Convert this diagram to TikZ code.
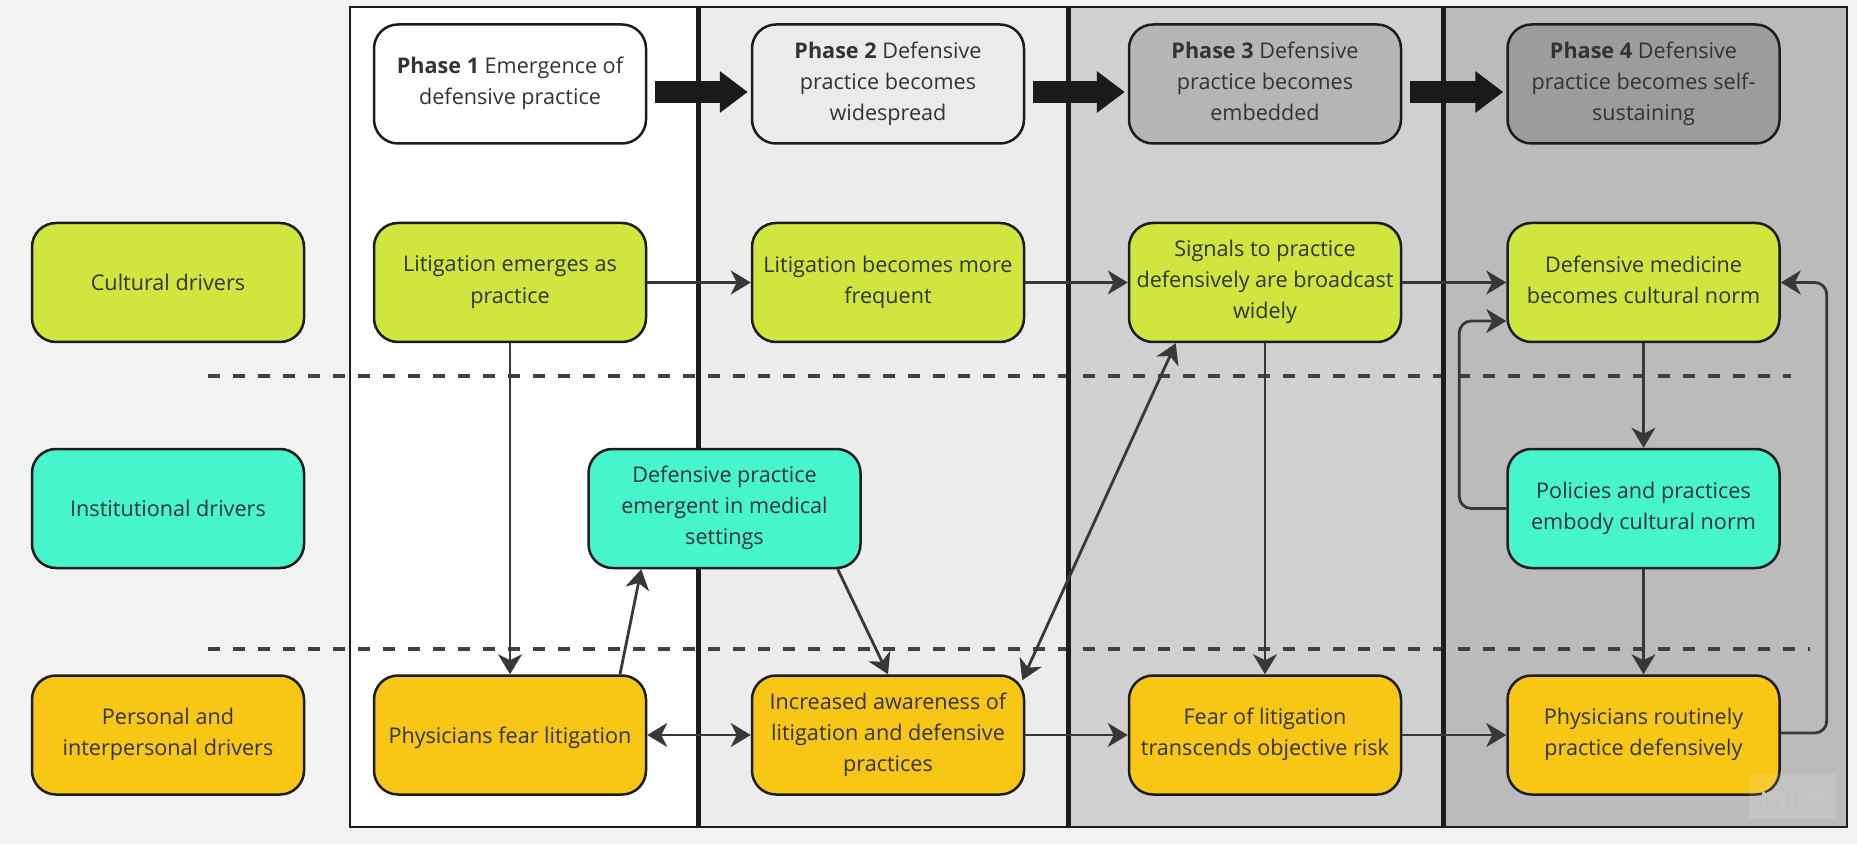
\documentclass[tikz,border=0pt]{standalone}
\usepackage{fontspec}
\setmainfont{Open Sans}
\usetikzlibrary{arrows.meta,calc}
\definecolor{bgc}{HTML}{F2F2F2}
\definecolor{colA}{HTML}{FFFFFF}
\definecolor{colB}{HTML}{ECECEC}
\definecolor{colC}{HTML}{D0D0D0}
\definecolor{colD}{HTML}{BBBBBB}
\definecolor{phB}{HTML}{EBEBEB}
\definecolor{phC}{HTML}{B5B5B5}
\definecolor{phD}{HTML}{9C9C9C}
\definecolor{lime}{HTML}{CEE63E}
\definecolor{teal}{HTML}{47F5CD}
\definecolor{gold}{HTML}{F8C615}
\definecolor{edge}{HTML}{1C1C1C}
\definecolor{txt}{HTML}{333333}
\definecolor{ln}{HTML}{383838}
\definecolor{dsh}{HTML}{404040}
\definecolor{blk}{HTML}{1A1A1A}
\begin{document}
\begin{tikzpicture}[x=0.5pt,y=-0.5pt,
  box/.style={draw=edge, line width=1.25pt, rounded corners=12pt,
    minimum width=136pt, minimum height=59.5pt, inner sep=0pt,
    align=center, text=txt, font=\fontsize{10.8pt}{15.6pt}\selectfont,
    execute at begin node={\rule{0pt}{11pt}},
    execute at end node={\rule[-3pt]{0pt}{3pt}}},
  cult/.style={box, fill=lime},
  inst/.style={box, fill=teal},
  pers/.style={box, fill=gold},
  tipA/.tip={Stealth[length=10pt,width=12pt,inset=3pt]},
  conn/.style={draw=ln, line width=1.4pt, -tipA},
  biconn/.style={draw=ln, line width=1.4pt, tipA-tipA},
  bigarrow/.style={draw=blk, line width=11pt, -{Triangle[length=14pt,width=20pt]}},
  sep/.style={draw=dsh, line width=1.7pt, dash pattern=on 6pt off 6.5pt},
  colframe/.style={draw=edge, line width=1pt}]
\useasboundingbox (0,0) rectangle (1857,844);
\fill[bgc] (0,0) rectangle (1857,844);
% columns
\fill[colA] (350,7) rectangle (698,827);
\fill[colB] (698,7) rectangle (1068,827);
\fill[colC] (1068,7) rectangle (1443,827);
\fill[colD] (1443,7) rectangle (1847,827);
% dashed separators
\coordinate (s1a) at (208,376); \coordinate (s1b) at (1791,376);
\coordinate (s2a) at (208,649); \coordinate (s2b) at (1810,649);
\draw[sep] (s1a) -- (s1b);
\draw[sep] (s2a) -- (s2b);
% frames
\draw[colframe, line width=1.2pt] (350,7) rectangle (1847,827);
\draw[edge, line width=2.5pt] (698,7) -- (698,827);
\draw[edge, line width=2.5pt] (1068,7) -- (1068,827);
\draw[edge, line width=2.5pt] (1443,7) -- (1443,827);
% phase boxes
\node[box, fill=white] (p1) at (510,84) {\textbf{Phase 1} Emergence of\\defensive practice};
\node[box, fill=phB] (p2) at (888,84) {\textbf{Phase 2} Defensive\\practice becomes\\widespread};
\node[box, fill=phC] (p3) at (1265,84) {\textbf{Phase 3} Defensive\\practice becomes\\embedded};
\node[box, fill=phD] (p4) at (1643.5,84) {\textbf{Phase 4} Defensive\\practice becomes self-\\sustaining};
% row labels
\node[cult] (cd) at (168,282.5) {Cultural drivers};
\node[inst] (id) at (168,508.5) {Institutional drivers};
\node[pers] (pd) at (168,735) {Personal and\\interpersonal drivers};
% cultural row
\node[cult] (le) at (510,282.5) {Litigation emerges as\\practice};
\node[cult] (lf) at (888,282.5) {Litigation becomes more\\frequent};
\node[cult] (sig) at (1265,282.5) {Signals to practice\\defensively are broadcast\\widely};
\node[cult] (dm) at (1643.5,282.5) {Defensive medicine\\becomes cultural norm};
% institutional row
\node[inst] (dp) at (724.5,508.5) {Defensive practice\\emergent in medical\\settings};
\node[inst] (pol) at (1643.5,508.5) {Policies and practices\\embody cultural norm};
% personal row
\node[pers] (pf) at (510,735) {Physicians fear litigation};
\node[pers] (aw) at (888,735) {Increased awareness of\\litigation and defensive\\practices};
\node[pers] (fl) at (1265,735) {Fear of litigation\\transcends objective risk};
\node[pers] (pr) at (1643.5,735) {Physicians routinely\\practice defensively};
% big phase arrows
\draw[bigarrow] ([xshift=4pt,yshift=-4pt]p1.east) -- ([xshift=-1.5pt,yshift=-4pt]p2.west);
\draw[bigarrow] ([xshift=4pt,yshift=-4pt]p2.east) -- ([xshift=-1.5pt,yshift=-4pt]p3.west);
\draw[bigarrow] ([xshift=4pt,yshift=-4pt]p3.east) -- ([xshift=-1.5pt,yshift=-4pt]p4.west);
% connectors
\draw[conn] (le.east) -- (lf.west);
\draw[conn] (lf.east) -- (sig.west);
\draw[conn] (sig.east) -- (dm.west);
\draw[conn] (le.south) -- (pf.north);
\draw[conn] ($(pf.north)+(110,0)$) -- ($(dp.south west)+(54,0)$);
\draw[biconn] (pf.east) -- (aw.west);
\draw[conn] ($(dp.south east)+(-24,0)$) -- (aw.north);
\draw[biconn] ($(aw.north east)+(-3,6)$) -- ($(sig.south west)+(48,0)$);
\draw[conn] (sig.south) -- (fl.north);
\draw[conn] (aw.east) -- (fl.west);
\draw[conn] (fl.east) -- (pr.west);
\draw[conn] (dm.south) -- (pol.north);
\draw[conn] (pol.south) -- (pr.north);
\draw[conn, rounded corners=6pt] (pol.west) -- ($(pol.west)+(-47,0)$) |- ($(dm.west)+(0,38.5)$);
\draw[conn, rounded corners=6pt] ($(pr.east)+(0,-2)$) -- ($(pr.east)+(46,-2)$) |- (dm.east);
% watermark
\node[fill=white, fill opacity=0.12, text opacity=1, minimum width=43.5pt, minimum height=22.5pt, inner sep=0pt,
  text=gray!45, font=\fontsize{14pt}{14pt}\selectfont\bfseries] (wm) at (1792.5,796.5) {miro};
\end{tikzpicture}
\end{document}
